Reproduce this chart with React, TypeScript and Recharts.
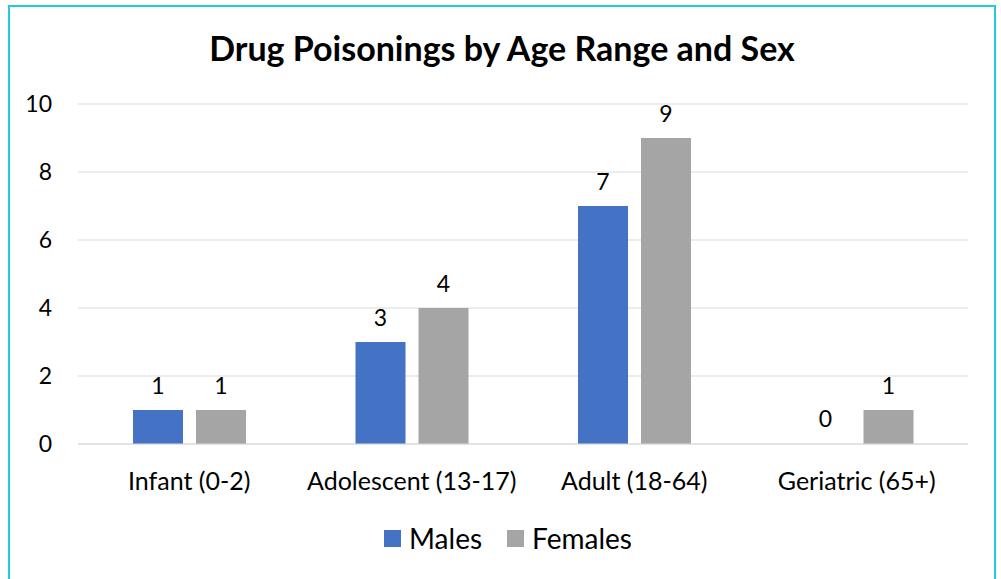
import React from 'react';
import { BarChart, Bar, XAxis, YAxis, CartesianGrid, LabelList, Rectangle } from 'recharts';

const categories = ['Infant (0-2)', 'Adolescent (13-17)', 'Adult (18-64)', 'Geriatric (65+)'];
const males = [1, 3, 7, 0];
const females = [1, 4, 9, 1];
const yTicks = [0, 2, 4, 6, 8, 10];

const data = categories.map((name, i) => ({ name, males: males[i], females: females[i] }));

const font = 'Lato, "Open Sans", sans-serif';

// custom label so a zero-height bar still gets its value
const renderLabel = (props: any) => {
  const { x, y, width, height, value } = props;
  const top = Number(height) < 0 ? Number(y) + Number(height) : Number(y);
  return (
    <text x={Number(x) + Number(width) / 2} y={top - 16} textAnchor="middle" fontSize={23} fill="#000" fontFamily={font}>
      {value}
    </text>
  );
};

// skip drawing the sliver that minPointSize gives a zero value
const barShape = (props: any) => {
  if (!props.value && props.value !== undefined && Number(props.value) === 0) return <g />;
  if (Array.isArray(props.value) && props.value[1] - props.value[0] === 0) return <g />;
  return <Rectangle {...props} />;
};

const App: React.FC = () => {
  return (
    <div style={{ position: 'fixed', left: 0, top: 0, width: 1001, height: 579, overflow: 'hidden', background: '#fff', fontFamily: font }}>
      <div style={{ position: 'absolute', left: 8, top: 5, width: 984, height: 600, border: '2px solid #22ccd6', boxSizing: 'content-box' }} />
      <div style={{ position: 'absolute', left: 8, top: 27, width: 988, textAlign: 'center', fontSize: 34, fontWeight: 700, color: '#000' }}>
        Drug Poisonings by Age Range and Sex
      </div>
      <div style={{ position: 'absolute', left: 0, top: 0 }}>
        <BarChart width={1001} height={579} data={data} margin={{ top: 104, right: 33, left: 18, bottom: 95 }} barSize={50} barGap={13}>
          <CartesianGrid vertical={false} stroke="#d9d9d9" />
          <XAxis dataKey="name" axisLine={{ stroke: '#d9d9d9' }} tickLine={false} height={40}
            tick={{ fontSize: 25, fill: '#000', fontFamily: font }} tickMargin={22} />
          <YAxis domain={[0, 10]} ticks={yTicks} axisLine={false} tickLine={false} width={60}
            tick={{ fontSize: 23, fill: '#000', fontFamily: font }} tickMargin={20} interval={0} />
          <Bar dataKey="males" fill="#4472c4" isAnimationActive={false} minPointSize={1} shape={barShape}>
            <LabelList dataKey="males" content={renderLabel} />
          </Bar>
          <Bar dataKey="females" fill="#a5a5a5" isAnimationActive={false} minPointSize={1} shape={barShape}>
            <LabelList dataKey="females" content={renderLabel} />
          </Bar>
        </BarChart>
      </div>
      <div style={{ position: 'absolute', left: 0, top: 521, width: 1016, display: 'flex', justifyContent: 'center', alignItems: 'center', fontSize: 28, color: '#000' }}>
        <span style={{ width: 17, height: 17, background: '#4472c4', display: 'inline-block', marginRight: 8 }} />
        <span style={{ marginRight: 25 }}>Males</span>
        <span style={{ width: 17, height: 17, background: '#a5a5a5', display: 'inline-block', marginRight: 8 }} />
        <span>Females</span>
      </div>
    </div>
  );
};

export default App;
